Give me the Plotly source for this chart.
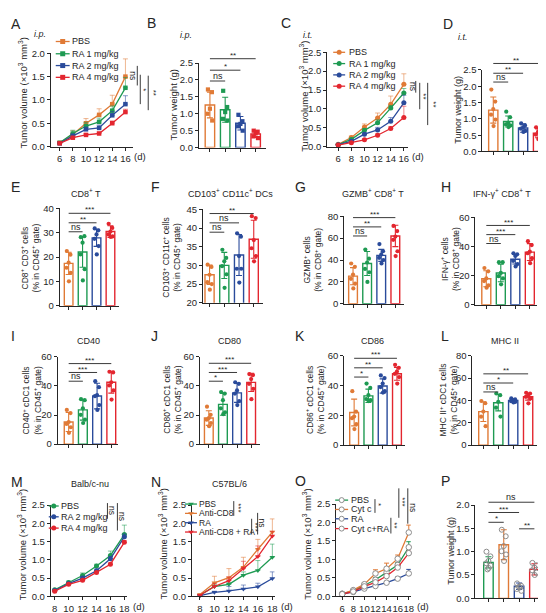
import plotly.graph_objects as go

W, H = 546, 613
FONT = "Liberation Sans, Arial, Helvetica, sans-serif"
ORANGE = "#E07A36"; GREEN = "#1E9A52"; BLUE = "#2A4B9B"; RED = "#E3262F"
ORANGE_L = "rgba(224,122,54,0.55)"; GREEN_L = "rgba(30,154,82,0.55)"
BLUE_L = "rgba(42,75,155,0.55)"; RED_L = "rgba(227,38,47,0.55)"
AXC = "#262626"; TXT = "#262626"

# ---------------- data ----------------
A_days = [6, 8, 10, 12, 14, 16]
A_names = ["PBS", "RA 1 mg/kg", "RA 2 mg/kg", "RA 4 mg/kg"]
A_pbs = [0.08, 0.26, 0.50, 0.68, 0.91, 1.50]
A_pbs_err = [0.02, 0.08, 0.10, 0.13, 0.19, 0.38]
A_ra1 = [0.08, 0.28, 0.44, 0.53, 0.77, 1.26]
A_ra1_err = [0.02, 0.07, 0.08, 0.08, 0.10, 0.22]
A_ra2 = [0.07, 0.23, 0.37, 0.40, 0.67, 0.91]
A_ra2_err = [0.01, 0.04, 0.05, 0.06, 0.08, 0.18]
A_ra4 = [0.07, 0.19, 0.25, 0.28, 0.50, 0.74]
A_ra4_err = [0.01, 0.02, 0.03, 0.03, 0.05, 0.06]

B_vals = [1.26, 1.12, 0.72, 0.40]
B_err = [0.38, 0.37, 0.20, 0.10]
B_pts = [[1.72, 1.64, 1.15, 1.00, 0.80], [1.68, 1.20, 1.05, 0.85, 0.80],
         [0.97, 0.78, 0.70, 0.63, 0.50], [0.50, 0.47, 0.42, 0.33, 0.28]]
B_sig = [(0, 1, 1.97, "ns"), (0, 2, 2.29, "*"), (0, 3, 2.63, "**")]

C_days = [6, 8, 10, 12, 14, 16]
C_pbs = [0.06, 0.24, 0.52, 0.76, 1.12, 1.65]
C_pbs_err = [0.02, 0.04, 0.08, 0.13, 0.22, 0.28]
C_ra1 = [0.05, 0.19, 0.43, 0.63, 1.02, 1.42]
C_ra1_err = [0.01, 0.03, 0.05, 0.08, 0.07, 0.12]
C_ra2 = [0.05, 0.14, 0.33, 0.44, 0.67, 1.16]
C_ra2_err = [0.01, 0.02, 0.04, 0.07, 0.10, 0.20]
C_ra4 = [0.04, 0.10, 0.18, 0.30, 0.48, 0.77]
C_ra4_err = [0.01, 0.02, 0.03, 0.04, 0.05, 0.30]

D_vals = [1.27, 0.92, 0.72, 0.56]
D_err = [0.40, 0.17, 0.13, 0.14]
D_pts = [[1.90, 1.53, 1.30, 1.13, 0.98, 0.78], [1.22, 1.05, 0.88, 0.83, 0.80, 0.75],
         [0.86, 0.80, 0.74, 0.70, 0.63, 0.60], [0.74, 0.68, 0.60, 0.52, 0.42, 0.38]]
D_sig = [(0, 1, 2.13, "ns"), (0, 2, 2.40, "**"), (0, 3, 2.70, "**")]

E_vals = [17.4, 22.1, 27.9, 30.5]
E_err = [4.6, 6.3, 3.5, 2.4]
E_pts = [[22.5, 21.0, 17.7, 15.6, 13.5, 10.0], [28.2, 28.6, 25.9, 21.1, 15.0, 10.4],
         [31.8, 31.0, 29.3, 27.5, 24.5, 21.1], [33.7, 32.0, 30.5, 29.3, 28.5, 28.3]]
E_sig = [(0, 1, 30.4, "ns"), (0, 2, 34.1, "**"), (0, 3, 38.0, "***")]

F_vals = [27.5, 30.0, 32.8, 37.0]
F_err = [2.6, 3.5, 5.5, 5.1]
F_pts = [[30.2, 29.6, 27.5, 25.5, 25.0, 23.5], [34.2, 32.0, 31.1, 29.8, 27.6, 24.0],
         [38.6, 37.7, 32.5, 29.1, 29.1, 25.4], [43.2, 42.7, 36.8, 34.6, 32.5, 31.1]]
F_sig = [(0, 1, 38.9, "ns"), (0, 2, 41.4, "ns"), (0, 3, 43.9, "**")]

G_vals = [25.2, 36.8, 44.2, 62.0]
G_err = [7.8, 11.0, 5.5, 9.8]
G_pts = [[36.8, 33.8, 26.7, 22.8, 18.4, 14.0], [49.5, 41.2, 37.7, 31.8, 28.8, 19.9],
         [54.6, 48.0, 45.0, 42.0, 40.0, 36.8], [71.2, 66.5, 61.4, 58.5, 48.0, 43.6]]
G_sig = [(0, 1, 62.0, "ns"), (0, 2, 70.3, "**"), (0, 3, 78.8, "***")]

H_vals = [17.8, 21.8, 31.2, 36.1]
H_err = [5.5, 6.0, 3.3, 5.8]
H_pts = [[25.2, 22.9, 18.0, 16.2, 13.3, 11.7], [29.2, 29.2, 21.8, 19.6, 18.0, 14.0],
         [35.3, 34.6, 33.5, 30.1, 27.9, 26.3], [43.6, 40.9, 36.4, 35.3, 31.9, 28.5]]
H_sig = [(0, 1, 42.0, "ns"), (0, 2, 48.1, "***"), (0, 3, 54.4, "***")]

I_vals = [15.2, 23.5, 33.0, 42.5]
I_err = [6.5, 7.0, 8.8, 7.5]
I_pts = [[23.5, 21.3, 15.2, 13.9, 11.6, 7.8], [30.9, 30.2, 24.6, 20.1, 16.8, 14.5],
         [43.2, 39.1, 33.6, 32.9, 26.8, 23.5], [49.7, 49.2, 42.5, 40.3, 36.9, 30.6]]
I_sig = [(0, 1, 43.2, "ns"), (0, 2, 49.2, "***"), (0, 3, 55.3, "***")]

J_vals = [17.9, 27.3, 35.2, 42.4]
J_err = [5.0, 7.5, 6.5, 6.3]
J_pts = [[25.7, 20.1, 17.9, 16.8, 14.5, 12.3], [35.8, 34.7, 30.2, 24.6, 21.9, 20.6],
         [42.5, 41.4, 36.9, 34.7, 29.5, 26.8], [48.1, 47.4, 44.7, 41.4, 38.0, 30.9]]
J_sig = [(0, 1, 43.2, "*"), (0, 2, 49.2, "***"), (0, 3, 55.5, "***")]

K_vals = [21.9, 33.1, 39.7, 47.9]
K_err = [9.0, 4.5, 4.8, 4.3]
K_pts = [[36.2, 22.5, 19.2, 18.1, 14.1, 10.8], [41.3, 38.4, 33.6, 30.9, 30.2, 29.6],
         [46.8, 45.0, 41.3, 39.0, 36.2, 35.3], [53.9, 51.9, 49.4, 47.9, 45.7, 41.3]]
K_sig = [(0, 1, 45.7, "*"), (0, 2, 51.9, "**"), (0, 3, 58.3, "***")]

L_vals = [30.0, 38.0, 39.9, 43.3]
L_err = [8.8, 7.3, 1.2, 3.0]
L_pts = [[39.5, 37.5, 30.0, 25.5, 17.0], [46.2, 44.7, 38.8, 33.5, 25.6],
         [41.8, 40.9, 40.3, 39.4, 38.8, 38.2], [46.8, 46.2, 44.1, 43.2, 41.8, 37.4]]
L_sig = [(0, 1, 47.6, "ns"), (0, 2, 55.6, "*"), (0, 3, 63.8, "**")]

M_days = [8, 10, 12, 14, 16, 18]
M_names = ["PBS", "RA 2 mg/kg", "RA 4 mg/kg"]
M_pbs = [0.18, 0.38, 0.57, 0.83, 1.12, 1.69]
M_pbs_err = [0.02, 0.04, 0.07, 0.05, 0.12, 0.26]
M_ra2 = [0.16, 0.35, 0.50, 0.70, 1.03, 1.63]
M_ra2_err = [0.02, 0.03, 0.04, 0.05, 0.06, 0.08]
M_ra4 = [0.14, 0.33, 0.44, 0.65, 0.88, 1.48]
M_ra4_err = [0.02, 0.03, 0.03, 0.03, 0.04, 0.05]

N_days = [8, 10, 12, 14, 16, 18]
N_names = ["PBS", "Anti-CD8", "RA", "Anti-CD8 + RA"]
N_pbs = [0.03, 0.27, 0.33, 0.58, 0.71, 1.07]
N_pbs_err = [0.01, 0.05, 0.05, 0.09, 0.27, 0.36]
N_cd8 = [0.05, 0.37, 0.51, 0.80, 1.29, 1.76]
N_cd8_err = [0.02, 0.18, 0.25, 0.27, 0.27, 0.36]
N_ra = [0.02, 0.11, 0.15, 0.20, 0.26, 0.49]
N_ra_err = [0.01, 0.03, 0.12, 0.11, 0.10, 0.18]
N_cd8ra = [0.03, 0.27, 0.43, 0.76, 1.09, 1.65]
N_cd8ra_err = [0.01, 0.08, 0.10, 0.20, 0.29, 0.13]

O_days = [6, 8, 10, 12, 14, 16, 18]
O_names = ["PBS", "Cyt c", "RA", "Cyt c+RA"]
O_pbs = [0.07, 0.15, 0.30, 0.45, 0.65, 0.85, 1.33]
O_pbs_err = [0.01, 0.02, 0.04, 0.06, 0.08, 0.06, 0.15]
O_cytc = [0.07, 0.17, 0.33, 0.62, 0.75, 1.02, 1.73]
O_cytc_err = [0.01, 0.02, 0.04, 0.10, 0.15, 0.10, 0.20]
O_ra = [0.06, 0.12, 0.21, 0.28, 0.37, 0.48, 0.62]
O_ra_err = [0.01, 0.02, 0.02, 0.03, 0.03, 0.04, 0.11]
O_cytcra = [0.06, 0.13, 0.27, 0.38, 0.55, 0.78, 1.17]
O_cytcra_err = [0.01, 0.02, 0.03, 0.04, 0.05, 0.05, 0.05]

P_vals = [0.77, 1.15, 0.26, 0.62]
P_err = [0.12, 0.32, 0.07, 0.12]
P_pts = [[1.00, 0.90, 0.80, 0.75, 0.70, 0.65, 0.62], [1.47, 1.33, 1.12, 1.01, 0.94, 0.80],
         [0.32, 0.27, 0.25, 0.20, 0.16, 0.23], [0.76, 0.71, 0.66, 0.60, 0.55, 0.50]]
P_sig = [(0, 1, 1.63, "*"), (0, 2, 1.84, "***"), (0, 3, 2.06, "ns"), (2, 3, 1.49, "**")]

# ---------------- geometry (pixels) ----------------
GEO = {
    "A": dict(xpx=(43, 126), ypx=(40, 135), xr=(4.64, 17.2), yr=(0, 2.0)),
    "B": dict(xpx=(192, 259), ypx=(50, 136), xr=(-0.72, 3.65), yr=(0, 2.5)),
    "C": dict(xpx=(321, 402), ypx=(39, 135), xr=(4.33, 16.6), yr=(0, 2.5)),
    "D": dict(xpx=(477, 540), ypx=(57, 140), xr=(-0.73, 3.47), yr=(0, 2.5)),
    "E": dict(xpx=(52, 112), ypx=(198, 297), xr=(-0.64, 3.64), yr=(0, 40)),
    "F": dict(xpx=(196, 256), ypx=(199, 294), xr=(-0.45, 3.6), yr=(20, 45)),
    "G": dict(xpx=(338, 398), ypx=(206, 295), xr=(-0.63, 3.6), yr=(0, 80)),
    "H": dict(xpx=(470, 532), ypx=(207, 296), xr=(-0.75, 3.5), yr=(0, 60)),
    "I": dict(xpx=(50, 111), ypx=(349, 438), xr=(-0.77, 3.5), yr=(0, 60)),
    "J": dict(xpx=(193, 253), ypx=(349, 438), xr=(-0.63, 3.6), yr=(0, 60)),
    "K": dict(xpx=(338, 399), ypx=(348, 439), xr=(-0.7, 3.55), yr=(0, 60)),
    "L": dict(xpx=(467, 532), ypx=(348, 439), xr=(-0.73, 3.6), yr=(0, 80)),
    "M": dict(xpx=(43, 120), ypx=(500, 593), xr=(7.43, 18.43), yr=(0, 2.5)),
    "N": dict(xpx=(185, 268), ypx=(500, 593), xr=(6.9, 18.3), yr=(0, 2.5)),
    "O": dict(xpx=(330, 405), ypx=(499, 593), xr=(4.92, 18.36), yr=(0, 2.5)),
    "P": dict(xpx=(470, 537), ypx=(500, 595), xr=(-0.85, 3.5), yr=(0, 2.0)),
}
ORDER = list("ABCDEFGHIJKLMNOP")

fig = go.Figure()
layout = dict(width=W, height=H, margin=dict(l=0, r=0, t=0, b=0),
              paper_bgcolor="white", plot_bgcolor="rgba(0,0,0,0)",
              showlegend=False, barmode="overlay",
              font=dict(family=FONT, size=10, color=TXT))
annotations = []
shapes = []


def fx(px):
    return px / W


def fy(py):
    return 1 - py / H


def to_px(key, x, y):
    g = GEO[key]
    (x0, x1), (yt, yb), xr, yr = g["xpx"], g["ypx"], g["xr"], g["yr"]
    px = x0 + (x - xr[0]) / (xr[1] - xr[0]) * (x1 - x0)
    py = yb - (y - yr[0]) / (yr[1] - yr[0]) * (yb - yt)
    return px, py


def ref(key):
    i = ORDER.index(key) + 1
    return ("x" if i == 1 else f"x{i}"), ("y" if i == 1 else f"y{i}"), i


def seg(x0, y0, x1, y1, color=AXC, width=1):
    shapes.append(dict(type="line", xref="paper", yref="paper",
                       x0=fx(x0), y0=fy(y0), x1=fx(x1), y1=fy(y1),
                       line=dict(color=color, width=width)))


def text(px, py, s, size=10, xanchor="center", yanchor="middle", angle=0, color=TXT):
    annotations.append(dict(x=fx(px), y=fy(py), xref="paper", yref="paper", text=s,
                            showarrow=False, xanchor=xanchor, yanchor=yanchor,
                            textangle=angle, font=dict(size=size, color=color, family=FONT),
                            borderpad=0))


TICKF = 9.5


def axes(key, xticks, dtick, yfmt, xlabels):
    g = GEO[key]
    xr_, yr_, i = ref(key)
    common = dict(showline=True, linecolor=AXC, linewidth=1, ticks="outside",
                  ticklen=3, tickwidth=1, tickcolor=AXC, showgrid=False,
                  zeroline=False, fixedrange=True, tickangle=0,
                  tickfont=dict(size=TICKF, color=TXT, family=FONT))
    xa = dict(domain=[fx(g["xpx"][0]), fx(g["xpx"][1])], range=list(g["xr"]),
              anchor=yr_, tickvals=xticks, showticklabels=xlabels, **common)
    ya = dict(domain=[fy(g["ypx"][1]), fy(g["ypx"][0])], range=list(g["yr"]),
              anchor=xr_, tick0=g["yr"][0], dtick=dtick, tickformat=yfmt, **common)
    layout["xaxis" if i == 1 else f"xaxis{i}"] = xa
    layout["yaxis" if i == 1 else f"yaxis{i}"] = ya


def line_panel(key, days, series, symbol, dtick=0.5, msize=5, open_marker=False):
    axes(key, days, dtick, ".1f", True)
    xr_, yr_, _ = ref(key)
    for name, vals, err, col, colL in series:
        if open_marker:
            mk = dict(symbol="circle", size=msize, color="white",
                      line=dict(color="#8c8c8c", width=1))
        else:
            mk = dict(symbol=symbol, size=msize, color=col, line=dict(width=0))
        fig.add_trace(go.Scatter(
            x=days, y=vals, name=name, mode="lines+markers", xaxis=xr_, yaxis=yr_,
            line=dict(color=col, width=1.3), marker=mk, cliponaxis=False,
            error_y=dict(type="data", symmetric=False, array=err,
                         arrayminus=[0] * len(err), color=colL, thickness=1, width=2.5)))


JIT = [-0.13, 0.13, 0.0, -0.15, 0.15, 0.02, -0.06]


def bar_panel(key, vals, err, pts, colors, dtick, symbol="circle", msize=4.2,
              open_pts=False, sig=(), yfmt=None):
    axes(key, [0, 1, 2, 3], dtick, yfmt, False)
    xr_, yr_, _ = ref(key)
    for gi, (v, e, p, c) in enumerate(zip(vals, err, pts, colors)):
        fig.add_trace(go.Bar(x=[gi], y=[v], width=0.62, xaxis=xr_, yaxis=yr_,
                             marker=dict(color="white", line=dict(color=c, width=1.4)),
                             error_y=dict(type="data", array=[e], color=c,
                                          thickness=1.1, width=3)))
        xs = [gi + JIT[k % len(JIT)] for k in range(len(p))]
        if open_pts:
            mk = dict(symbol="circle", size=5, color="rgba(255,255,255,0)",
                      line=dict(color="#8c8c8c", width=1))
        else:
            mk = dict(symbol=symbol, size=msize, color=c, line=dict(width=0))
        fig.add_trace(go.Scatter(x=xs, y=p, mode="markers", marker=mk,
                                 xaxis=xr_, yaxis=yr_, cliponaxis=False))
    for a, b, yv, s in sig:
        xa, py = to_px(key, a, yv)
        xb, _ = to_px(key, b, yv)
        seg(xa, py, xb, py, color="#3a3a3a", width=1)
        if s == "ns":
            text((xa + xb) / 2, py - 5, s, size=9)
        else:
            text((xa + xb) / 2, py - 3.5, s, size=8)


def ylabel(px, py, s, size=9.5):
    text(px, py, s, size=size, angle=-90)


def legend(rows, sx0, sx1, tx, symbol, size=9, open_marker=False):
    # legend symbols drawn on an overlay pixel axis
    for name, col, py in rows:
        if open_marker:
            mk = dict(symbol="circle", size=5, color="white", line=dict(color="#8c8c8c", width=1))
        else:
            mk = dict(symbol=symbol, size=5, color=col, line=dict(width=0))
        fig.add_trace(go.Scatter(x=[sx0, (sx0 + sx1) / 2, sx1], y=[py, py, py],
                                 mode="lines", line=dict(color=col, width=1.3),
                                 xaxis="x17", yaxis="y17", cliponaxis=False))
        fig.add_trace(go.Scatter(x=[(sx0 + sx1) / 2], y=[py], mode="markers", marker=mk,
                                 xaxis="x17", yaxis="y17", cliponaxis=False))
        text(tx, py, name, size=size, xanchor="left")


def vsig(x, y0, y1, s, tx, ty):
    seg(x, y0, x, y1, color="#3a3a3a", width=1)
    text(tx, ty, s, size=8.5 if s == "ns" else 8, angle=90)


# ---------------- panels ----------------
COL4 = [ORANGE, GREEN, BLUE, RED]
COL4L = [ORANGE_L, GREEN_L, BLUE_L, RED_L]

line_panel("A", A_days, list(zip(A_names, [A_pbs, A_ra1, A_ra2, A_ra4],
                                 [A_pbs_err, A_ra1_err, A_ra2_err, A_ra4_err], COL4, COL4L)),
           "square", msize=4.5)
line_panel("C", C_days, list(zip(A_names, [C_pbs, C_ra1, C_ra2, C_ra4],
                                 [C_pbs_err, C_ra1_err, C_ra2_err, C_ra4_err], COL4, COL4L)),
           "circle")
line_panel("M", M_days, list(zip(M_names, [M_pbs, M_ra2, M_ra4],
                                 [M_pbs_err, M_ra2_err, M_ra4_err], [GREEN, BLUE, RED],
                                 [GREEN_L, BLUE_L, RED_L])), "circle")
line_panel("N", N_days, list(zip(N_names, [N_pbs, N_cd8, N_ra, N_cd8ra],
                                 [N_pbs_err, N_cd8_err, N_ra_err, N_cd8ra_err],
                                 [GREEN, ORANGE, BLUE, RED], [GREEN_L, ORANGE_L, BLUE_L, RED_L])),
           "triangle-down")
line_panel("O", O_days, list(zip(O_names, [O_pbs, O_cytc, O_ra, O_cytcra],
                                 [O_pbs_err, O_cytc_err, O_ra_err, O_cytcra_err],
                                 [GREEN, ORANGE, BLUE, RED], [GREEN, ORANGE, BLUE, RED])),
           "circle", msize=5.5, open_marker=True)

bar_panel("B", B_vals, B_err, B_pts, COL4, 0.5, symbol="square", msize=4.2, sig=B_sig, yfmt=".1f")
bar_panel("D", D_vals, D_err, D_pts, COL4, 0.5, sig=D_sig, yfmt=".1f")
bar_panel("E", E_vals, E_err, E_pts, COL4, 10, sig=E_sig)
bar_panel("F", F_vals, F_err, F_pts, COL4, 5, sig=F_sig)
bar_panel("G", G_vals, G_err, G_pts, COL4, 20, sig=G_sig)
bar_panel("H", H_vals, H_err, H_pts, COL4, 20, sig=H_sig)
bar_panel("I", I_vals, I_err, I_pts, COL4, 20, sig=I_sig)
bar_panel("J", J_vals, J_err, J_pts, COL4, 20, sig=J_sig)
bar_panel("K", K_vals, K_err, K_pts, COL4, 20, sig=K_sig)
bar_panel("L", L_vals, L_err, L_pts, COL4, 20, sig=L_sig)
bar_panel("P", P_vals, P_err, P_pts, [GREEN, ORANGE, BLUE, RED], 0.5, open_pts=True,
          sig=P_sig, yfmt=".1f")

# overlay pixel axis for legend symbols
layout["xaxis17"] = dict(domain=[0, 1], range=[0, W], visible=False, fixedrange=True, anchor="y17")
layout["yaxis17"] = dict(domain=[0, 1], range=[H, 0], visible=False, fixedrange=True, anchor="x17")

# legends
legend(list(zip(A_names, COL4, [28, 40.5, 52.5, 64.5])), 48, 62, 63.5, "square")
legend(list(zip(A_names, COL4, [39, 50.5, 62, 73.5])), 327, 339, 342, "circle")
legend(list(zip(M_names, [GREEN, BLUE, RED], [501, 512, 523.5])), 41, 51, 52.5, "circle")
legend(list(zip(N_names, [GREEN, ORANGE, BLUE, RED], [499, 508.5, 518, 527.5])), 178, 190, 191, "triangle-down", size=8.5)
legend(list(zip(O_names, [GREEN, ORANGE, BLUE, RED], [495, 504.5, 514, 524])), 329, 342, 344, "circle", open_marker=True)

# vertical significance marks (line charts)
def vs_data(key, dx_line, ytop, ybot, s, dx_text):
    xe = GEO[key]["xpx"][1]
    _, p0 = to_px(key, 0, ytop)
    _, p1 = to_px(key, 0, ybot)
    vsig(xe + dx_line, p0, p1, s, xe + dx_line + dx_text, (p0 + p1) / 2)

vs_data("A", 4, 1.73, 1.31, "ns", -4)
vs_data("A", 7, 1.54, 0.91, "*", 3)
vs_data("A", 15, 1.52, 0.78, "**", 5)
vs_data("C", 8, 1.74, 1.43, "ns", -3)
vs_data("C", 12, 1.69, 0.99, "**", 4)
vs_data("C", 20, 1.69, 0.57, "**", 5)

vsig(100, 498, 514, "ns", 104.5, 506)
vsig(110, 498, 526, "ns", 114.5, 512)
vsig(227, 496, 511, "***", 231, 503)
vsig(245, 514, 530, "***", 248.5, 522)
vsig(251, 508, 530, "ns", 255.5, 518)
vsig(369, 494, 508, "*", 373, 500)
vsig(385, 513, 529, "**", 388.5, 521)
vsig(393, 483, 513, "***", 397, 497)
vsig(402, 483, 519, "ns", 407, 503)

# "(d)" unit labels, just right of the last tick label
for key, px in [("A", 125.5), ("C", 405.5), ("M", 124.5), ("N", 273.5), ("O", 410.5)]:
    py = GEO[key]["ypx"][1] + 10.5
    text(px, py, "(d)", size=TICKF, xanchor="left")

# panel letters
for L_, px, py in [("A", 2, 10), ("B", 139, 9), ("C", 274, 9), ("D", 436, 10),
                   ("E", 2, 176), ("F", 143, 176), ("G", 288, 176), ("H", 434, 176),
                   ("I", 2, 328), ("J", 143, 328), ("K", 288, 328), ("L", 434, 328),
                   ("M", 2, 477), ("N", 143, 477), ("O", 288, 476), ("P", 434, 476)]:
    text(px, py, L_, size=14, xanchor="left")

# subtitles
text(32, 20, "<i>i.p.</i>", size=9)
text(179, 21, "<i>i.p.</i>", size=9)
text(302, 21, "<i>i.t.</i>", size=9)
text(458, 23, "<i>i.t.</i>", size=9)
for s, px, py in [("CD8<sup>+</sup> T", 78, 182), ("CD103<sup>+</sup> CD11c<sup>+</sup> DCs", 224, 182),
                  ("GZMB<sup>+</sup> CD8<sup>+</sup> T", 367, 182), ("IFN-γ<sup>+</sup> CD8<sup>+</sup> T", 497, 182),
                  ("CD40", 81, 333), ("CD80", 223, 333), ("CD86", 367, 333), ("MHC II", 500, 333),
                  ("Balb/c-nu", 82, 479), ("C57BL/6", 223, 479)]:
    text(px, py, s, size=9)

# y-axis titles
TV = "Tumor volume (×10<sup>3</sup> mm<sup>3</sup>)"
TW = "Tumor weight (g)"
ylabel(15, 80, TV)
ylabel(166, 93, TW)
ylabel(298, 84, TV)
ylabel(453, 98, TW, 9)
ylabel(22, 248, "CD8<sup>+</sup> CD3<sup>+</sup> cells<br>(% in CD45<sup>+</sup> gate)", 8.5)
ylabel(164, 248, "CD103<sup>+</sup> CD11c<sup>+</sup> cells<br>(% in CD45<sup>+</sup> gate)", 8.5)
ylabel(306, 250, "GZMB<sup>+</sup> cells<br>(% in CD8<sup>+</sup> gate)", 8.5)
ylabel(444, 250, "IFN-γ<sup>+</sup> cells<br>(% in CD8<sup>+</sup> gate)", 8.5)
ylabel(24, 393, "CD40<sup>+</sup> cDC1 cells<br>(% in CD45<sup>+</sup> gate)", 8.5)
ylabel(165, 393, "CD80<sup>+</sup> cDC1 cells<br>(% in CD45<sup>+</sup> gate)", 8.5)
ylabel(309, 393, "CD86<sup>+</sup> cDC1 cells<br>(% in CD45<sup>+</sup> gate)", 8.5)
ylabel(443, 393, "MHC II<sup>+</sup> cDC1 cells<br>(% in CD45<sup>+</sup> gate)", 8.5)
ylabel(14, 540, TV)
ylabel(156, 540, TV)
ylabel(301, 540, TV)
ylabel(446, 547, TW, 9)

layout["annotations"] = annotations
layout["shapes"] = shapes
fig.update_layout(**layout)
fig.write_html("out.html")
